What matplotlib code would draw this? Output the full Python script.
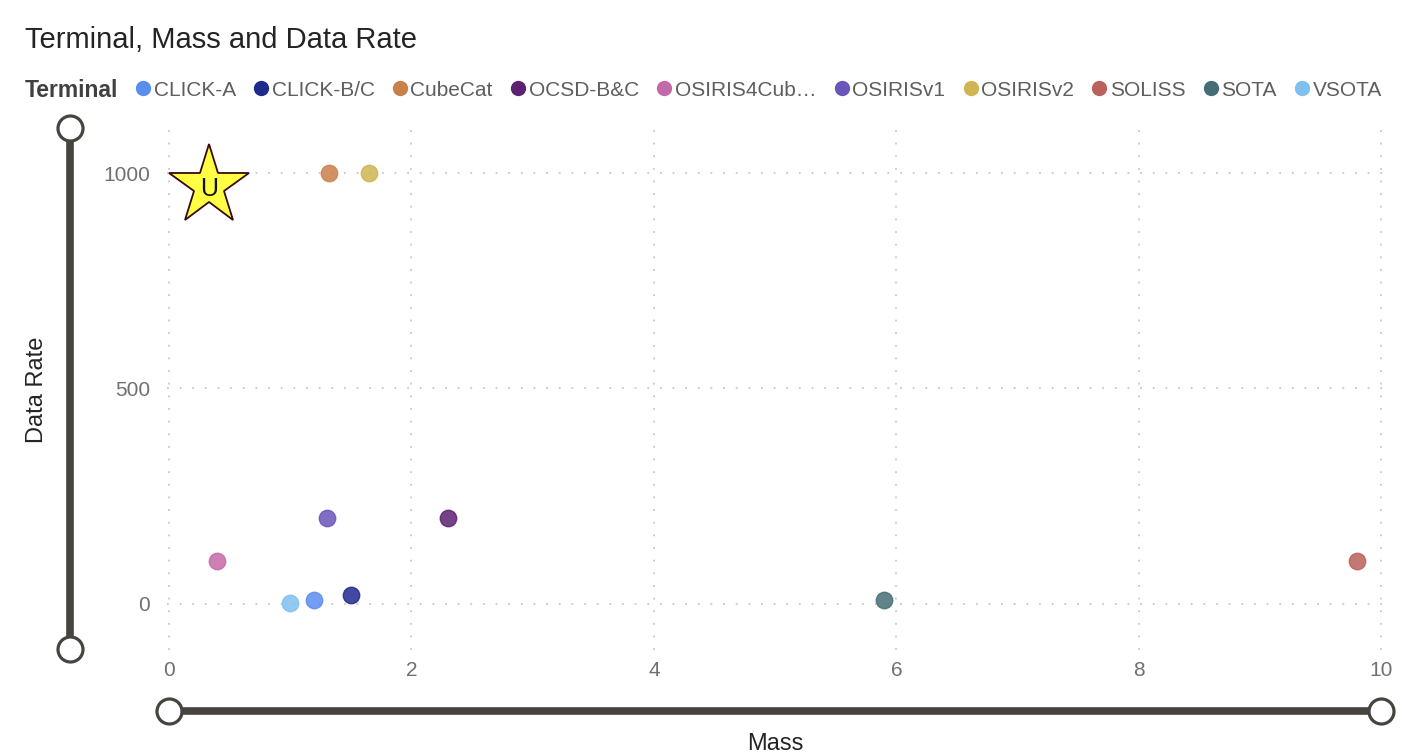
import matplotlib.pyplot as plt
from matplotlib.lines import Line2D

plt.rcParams["font.family"] = ["Liberation Sans", "DejaVu Sans"]

# data
terminals = ["CLICK-A", "CLICK-B/C", "CubeCat", "OCSD-B&C", "OSIRIS4CubeSat",
             "OSIRISv1", "OSIRISv2", "SOLISS", "SOTA", "VSOTA"]
legend_labels = ["CLICK-A", "CLICK-B/C", "CubeCat", "OCSD-B&C", "OSIRIS4Cub…",
                 "OSIRISv1", "OSIRISv2", "SOLISS", "SOTA", "VSOTA"]
mass = [1.2, 1.5, 1.32, 2.3, 0.4, 1.3, 1.65, 9.8, 5.9, 1.0]
data_rate = [10, 20, 1000, 200, 100, 200, 1000, 100, 10, 1]
colors = ["#5B8DEF", "#1F2A8F", "#C9804A", "#5C2170", "#C46AA8",
          "#6A55BB", "#D0B552", "#B9615A", "#466D75", "#7EC0EE"]
x_ticks = [0, 2, 4, 6, 8, 10]
y_ticks = [0, 500, 1000]

W, H = 1404, 754
fig = plt.figure(figsize=(W / 100, H / 100), dpi=100)
ax = fig.add_axes([167 / W, 1 - 650 / H, (1385 - 167) / W, (650 - 130) / H])

for t, m, r, c in zip(terminals, mass, data_rate, colors):
    ax.scatter(m, r, s=140, color=c, alpha=0.85, edgecolors=c, linewidths=1, zorder=3)

ax.set_xlim(-0.016, 10.03)
ax.set_ylim(-107, 1100)
ax.set_xticks(x_ticks)
ax.set_yticks(y_ticks)
ax.tick_params(length=0, labelsize=15, labelcolor="#707070")
ax.tick_params(axis="y", pad=12)
ax.tick_params(axis="x", pad=8)
ax.grid(True, color="#C8C8C8", linestyle=(0, (1, 6)), linewidth=1.3)
for s in ax.spines.values():
    s.set_visible(False)

ax.set_ylabel("Data Rate", fontsize=17, color="#252423")
ax.yaxis.set_label_coords(-0.0977, 0.5)
fig.text(775 / W, 1 - 750 / H, "Mass", fontsize=17, color="#252423",
         ha="center", va="baseline")

# title and legend
fig.text(25 / W, 1 - 48 / H, "Terminal, Mass and Data Rate", fontsize=21,
         color="#252423", va="baseline")
fig.text(25 / W, 1 - 97 / H, "Terminal", fontsize=16.5, fontweight="bold",
         color="#404040", va="baseline")
handles = [Line2D([], [], marker="o", linestyle="", markersize=10, color=c)
           for c in colors]
fig.legend(handles, legend_labels, loc="center left",
           bbox_to_anchor=(137 / W, 1 - 90 / H), ncol=10, frameon=False,
           fontsize=15, labelcolor="#605E5C", handlelength=0.6,
           handletextpad=0.2, columnspacing=0.92, borderpad=0, borderaxespad=0)

# star overlay
fig.add_artist(Line2D([209 / W], [1 - 186 / H], transform=fig.transFigure,
                      marker="*", markersize=60, markerfacecolor="#FFFF44",
                      markeredgecolor="#3A0A0A", markeredgewidth=1.3))
fig.text(209 / W, 1 - 189 / H, "U", fontsize=18, ha="center", va="center",
         color="#111111")

# slider decorations
sl = "#474440"
fig.add_artist(Line2D([70 / W, 70 / W], [1 - 128 / H, 1 - 649 / H],
                      transform=fig.transFigure, color=sl, linewidth=5.5,
                      marker="o", markersize=18, markerfacecolor="white",
                      markeredgecolor=sl, markeredgewidth=2.3))
fig.add_artist(Line2D([169 / W, 1381 / W], [1 - 711 / H, 1 - 711 / H],
                      transform=fig.transFigure, color=sl, linewidth=5.5,
                      marker="o", markersize=18, markerfacecolor="white",
                      markeredgecolor=sl, markeredgewidth=2.3))

fig.savefig("out.png", dpi=100)
